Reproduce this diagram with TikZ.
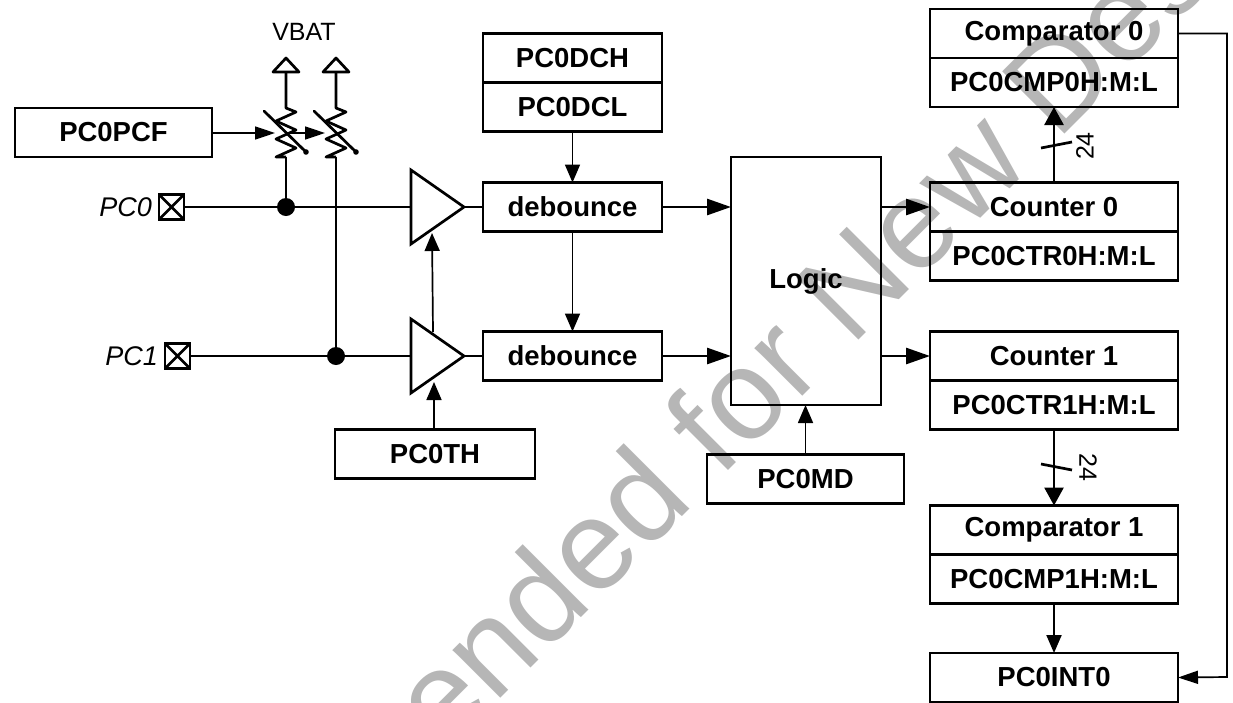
\documentclass[tikz,border=0pt]{standalone}
\usepackage{fontspec}
\setmainfont{Liberation Sans}
\usetikzlibrary{positioning,arrows.meta,calc}
\definecolor{marca}{RGB}{182,182,182}

\begin{document}
\begin{tikzpicture}[
    x=1pt, y=-1pt,
    bloque/.style={draw, line width=2.7pt, minimum height=49pt, inner sep=0pt, outer sep=0pt,
                   font=\fontsize{27.5}{27.5}\selectfont\bfseries},
    pad/.style={draw, line width=2.5pt, minimum size=25pt, inner sep=0pt, outer sep=0pt,
                path picture={\draw[line width=2.5pt] (path picture bounding box.north west) -- (path picture bounding box.south east)
                              (path picture bounding box.north east) -- (path picture bounding box.south west);}},
    punto/.style={circle, fill=black, minimum size=18pt, inner sep=0pt, outer sep=0pt},
    etiqueta/.style={font=\fontsize{27}{27}\selectfont\itshape, inner sep=0pt},
    hilo/.style={line width=2.7pt},
    bush/.style={line width=2.7pt, -{Triangle[length=24pt, width=16pt]}},
    busv/.style={line width=2.7pt, -{Triangle[length=18pt, width=19pt]}},
    flecha/.style={line width=1.7pt, -{Triangle[length=18pt, width=15pt]}},
    flechah/.style={line width=1.7pt, -{Triangle[length=20pt, width=13pt]}}]
  \useasboundingbox (0,0) rectangle (1233,702);
  % marca de agua
  \begin{scope}
    \clip (0,0) rectangle (1233,702);
    \node[rotate=45, anchor=base west, text=marca, font=\fontsize{128}{128}\selectfont, inner sep=0pt] (marca) at (444,755) {ended for New Des};
  \end{scope}
  % bloques de registros
  \node[bloque, minimum width=197pt] (pcf) at (113.5,132.5) {PC0PCF};
  \node[bloque, minimum width=179pt] (dch) at (572.5,58) {PC0DCH};
  \node[bloque, minimum width=179pt, below=0pt of dch] (dcl) {PC0DCL};
  \node[bloque, minimum width=179pt] (deb0) at (572.5,207) {debounce};
  \node[bloque, minimum width=179pt] (deb1) at (572.5,356) {debounce};
  \node[bloque, minimum width=150pt, minimum height=248pt] (logic) at (806,281) {Logic};
  \node[bloque, minimum width=200pt] (pcth) at (435,454) {PC0TH};
  \node[bloque, minimum width=197pt] (pcmd) at (805.5,479) {PC0MD};
  \node[bloque, minimum width=248pt] (cmp0) at (1054,33.5) {Comparator 0};
  \node[bloque, minimum width=248pt, below=0pt of cmp0] (cmp0r) {PC0CMP0H:M:L};
  \node[bloque, minimum width=248pt] (ctr0) at (1054,207) {Counter 0};
  \node[bloque, minimum width=248pt, below=0pt of ctr0] (ctr0r) {PC0CTR0H:M:L};
  \node[bloque, minimum width=248pt] (ctr1) at (1054,356) {Counter 1};
  \node[bloque, minimum width=248pt, below=0pt of ctr1] (ctr1r) {PC0CTR1H:M:L};
  \node[bloque, minimum width=248pt] (cmp1) at (1054,530) {Comparator 1};
  \node[bloque, minimum width=248pt, below=0pt of cmp1] (cmp1r) {PC0CMP1H:M:L};
  \node[bloque, minimum width=248pt] (inta) at (1054,677.5) {PC0INT0};
  % entradas
  \node[pad] (pad0) at (171.5,207) {};
  \node[pad] (pad1) at (177.5,356) {};
  \node[etiqueta, left=7pt of pad0] (lab0) {PC0};
  \node[etiqueta, left=7pt of pad1] (lab1) {PC1};
  \node[punto] (dot0) at (286,207) {};
  \node[punto] (dot1) at (336,356) {};
  \node[font=\fontsize{25}{25}\selectfont, inner sep=0pt] (vbat) at (304,32) {VBAT};
  % comparadores
  \foreach \nom/\yc in {amp0/207, amp1/356} {
    \coordinate (\nom-in) at (411,\yc);
    \coordinate (\nom-out) at (464,\yc);
    \draw[hilo, line join=miter] (411,\yc-37) -- (\nom-out) -- (411,\yc+37) -- cycle;
  }
  % resistencias variables
  \foreach \nom/\xc in {resa/286, resb/336} {
    \coordinate (\nom-top) at (\xc,72);
    \coordinate (\nom-up) at (\xc,108);
    \coordinate (\nom-low) at (\xc,157);
    \coordinate (\nom-mid) at (\xc,133);
    \draw[hilo, line join=round] (\xc-13,72) -- (\xc,58) -- (\xc+13,72) -- cycle;
    \draw[hilo, line join=round] (\nom-top) -- (\nom-up) -- ++(10,4) -- ++(-20,9) -- ++(20,9) -- ++(-20,9) -- ++(20,9) -- ++(-20,9)  -- (\nom-low);
    \draw[hilo, line cap=round] (\xc-22,111) -- (\xc+21,153);
    \fill (\xc+20,152) circle (2.8pt);
  }
  \draw[hilo] (resa-low) -- (dot0);
  \draw[hilo] (resb-low) -- (dot1);
  \draw[flechah] (pcf.east |- resa-mid) -- ($(resa-mid)+(-11,0)$);
  \draw[flechah] (resa-mid) -- ($(resb-mid)+(-11,0)$);
  % hilos
  \draw[hilo] (pad0) ++(12,0) -- (amp0-in);
  \draw[hilo] (pad1) ++(12,0) -- (amp1-in);
  \draw[hilo] (amp0-out) -- (deb0);
  \draw[hilo] (amp1-out) -- (deb1);
  \draw[flecha] (dcl) -- (deb0);
  \draw[flecha] (deb0) -- (deb1);
  \draw[bush] (deb0) -- (deb0 -| logic.west);
  \draw[bush] (deb1) -- (deb1 -| logic.west);
  \draw[bush] (logic.east |- ctr0) -- (ctr0);
  \draw[bush] (logic.east |- ctr1) -- (ctr1);
  \draw[flecha] (pcth.north -| 434,0) -- (434,382);
  \draw[flecha] (433,332) -- (432,233);
  \draw[flecha] (pcmd) -- (pcmd |- logic.south);
  % buses de 24 bits
  \draw[busv] (ctr0) -- (cmp0r);
  \draw[hilo] (1041,148) -- (1072,142);
  \node[rotate=90, font=\fontsize{25}{25}\selectfont, inner sep=0pt] (ancho0) at (1085,146) {24};
  \draw[busv] (ctr1r) -- (cmp1);
  \draw[hilo] (1041,464) -- (1072,470);
  \node[rotate=-90, font=\fontsize{25}{25}\selectfont, inner sep=0pt] (ancho1) at (1088,467) {24};
  \draw[line width=2pt, -{Triangle[length=18pt, width=15pt]}] (1054,603) -- (1054,653);
  \draw[flechah] (cmp0.east) -| (1227,677) -- (inta.east);
\end{tikzpicture}
\end{document}
